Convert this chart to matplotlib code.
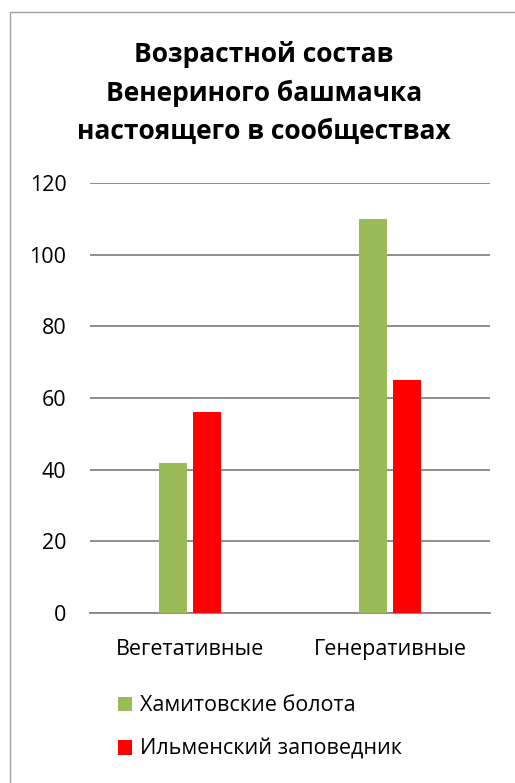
import matplotlib
matplotlib.use("Agg")
import matplotlib.pyplot as plt
import numpy as np
from matplotlib.patches import Rectangle

categories = ["Вегетативные", "Генеративные"]
series_names = ["Хамитовские болота", "Ильменский заповедник"]
hamitovskie = [42, 110]
ilmensky = [56, 65]
colors = ["#9BBB59", "#FF0000"]
title = "Возрастной состав\nВенериного башмачка\nнастоящего в сообществах"

plt.rcParams['font.family'] = ['Open Sans', 'DejaVu Sans']

W, H = 515, 783
fig = plt.figure(figsize=(W / 100, H / 100), dpi=100)
fig.patch.set_facecolor("white")

# outer chart border
fig.patches.append(Rectangle((10 / W, 1 - 12 / H), 1.0, -1.1, transform=fig.transFigure,
                             fill=False, edgecolor="#A0A0A0", linewidth=1.0))

left, right = 90 / W, 490 / W
top, bottom = 1 - 183 / H, 1 - 613 / H
ax = fig.add_axes([left, bottom, right - left, top - bottom])

x = np.arange(len(categories))
bw = 0.14
off = 0.085
ax.bar(x - off, hamitovskie, width=bw, color=colors[0], label=series_names[0], zorder=3)
ax.bar(x + off, ilmensky, width=bw, color=colors[1], label=series_names[1], zorder=3)

ax.set_xlim(-0.5, 1.5)
ax.set_ylim(0, 120)
ax.set_yticks(np.arange(0, 121, 20))
ax.set_xticks(x)
ax.set_xticklabels(categories)
ax.yaxis.grid(True, color="#868686", linewidth=1.3, zorder=0)
ax.set_axisbelow(True)
for s in ["top", "right", "left"]:
    ax.spines[s].set_visible(False)
ax.spines["bottom"].set_color("#868686")
ax.spines["bottom"].set_linewidth(1.3)
ax.tick_params(axis="both", length=0, labelsize=15.5, colors="black")
ax.tick_params(axis="y", pad=17)
ax.tick_params(axis="x", pad=19)

fig.text(264 / W, 1 - 93 / H, title, ha="center", va="center", fontsize=19,
         fontweight="bold", linespacing=1.55)

fig.legend(loc="upper left", bbox_to_anchor=(99 / W, 1 - 676 / H), frameon=False,
           fontsize=15.5, handlelength=0.65, handleheight=0.65, handletextpad=0.35,
           labelspacing=1.05)

fig.savefig("out.png", dpi=100)
